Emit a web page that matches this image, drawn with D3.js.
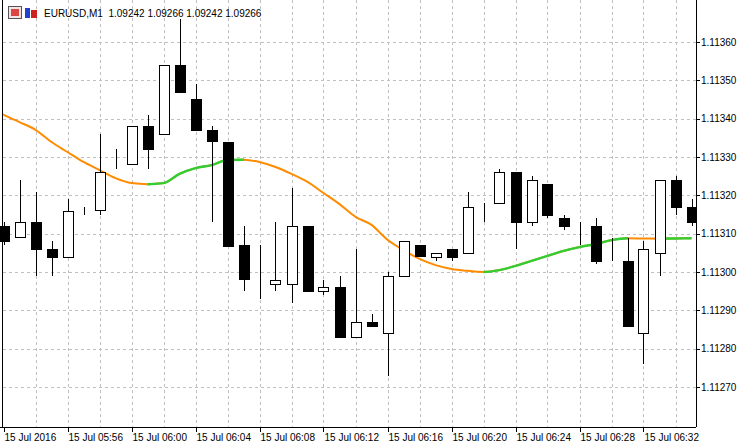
<!DOCTYPE html>
<html><head><meta charset="utf-8">
<script src="https://cdn.jsdelivr.net/npm/d3@7"></script>
<style>body{margin:0;background:#fff}svg{display:block}</style>
</head><body><svg id="c" width="741" height="445"></svg>
<script>
const opens  = [1.11312,1.11309,1.11313,1.11306,1.11304,1.11316,1.11316,1.11327,1.11328,1.11338,1.11336,1.11354,1.11345,1.11337,1.11334,1.11307,1.11297,1.11297,1.11297,1.11312,1.11295,1.11296,1.11283,1.11287,1.11284,1.11299,1.11307,1.11304,1.11306,1.11305,1.11317,1.11318,1.11326,1.11313,1.11323,1.11314,1.11312,1.11312,1.11303,1.11303,1.11284,1.11305,1.11324,1.11317];
const highs  = [1.11313,1.11324,1.11321,1.11308,1.11319,1.11317,1.11336,1.11332,1.11338,1.11341,1.11354,1.11366,1.11349,1.11338,1.11334,1.11312,1.11307,1.11313,1.11322,1.11312,1.11298,1.11299,1.11306,1.11289,1.11300,1.11308,1.11307,1.11305,1.11306,1.11321,1.11318,1.11327,1.11326,1.11325,1.11323,1.11315,1.11313,1.11314,1.11309,1.11309,1.11308,1.11324,1.11325,1.11319];
const lows   = [1.11307,1.11309,1.11299,1.11299,1.11304,1.11315,1.11315,1.11327,1.11328,1.11327,1.11336,1.11347,1.11337,1.11313,1.11307,1.11295,1.11293,1.11295,1.11292,1.11295,1.11294,1.11283,1.11283,1.11286,1.11273,1.11299,1.11304,1.11303,1.11303,1.11305,1.11313,1.11318,1.11306,1.11312,1.11314,1.11311,1.11307,1.11302,1.11303,1.11286,1.11276,1.11299,1.11315,1.11312];
const closes = [1.11308,1.11313,1.11306,1.11304,1.11316,1.11316,1.11326,1.11327,1.11338,1.11332,1.11354,1.11347,1.11337,1.11334,1.11307,1.11298,1.11297,1.11298,1.11312,1.11295,1.11296,1.11283,1.11287,1.11286,1.11299,1.11308,1.11304,1.11305,1.11304,1.11317,1.11317,1.11326,1.11313,1.11324,1.11315,1.11312,1.11312,1.11303,1.11303,1.11286,1.11306,1.11324,1.11317,1.11313];
const maValues = [1.113410,1.113391,1.113371,1.113339,1.113313,1.113287,1.113266,1.113245,1.113232,1.113229,1.113232,1.113256,1.113271,1.113279,1.113292,1.113293,1.113287,1.113274,1.113256,1.113235,1.113206,1.113177,1.113144,1.113123,1.113084,1.113057,1.113034,1.113018,1.113008,1.113003,1.113000,1.113005,1.113016,1.113029,1.113042,1.113055,1.113065,1.113073,1.113083,1.113088,1.1130875,1.113087,1.1130875,1.113088];
const priceTicks = [1.11270,1.11280,1.11290,1.11300,1.11310,1.11320,1.11330,1.11340,1.11350,1.11360];
const timeLabels = ['15 Jul 2016','15 Jul 05:56','15 Jul 06:00','15 Jul 06:04','15 Jul 06:08','15 Jul 06:12','15 Jul 06:16','15 Jul 06:20','15 Jul 06:24','15 Jul 06:28','15 Jul 06:32'];
const title = 'EURUSD,M1  1.09242 1.09266 1.09242 1.09266';

const svg = d3.select('#c');
const font = 'Liberation Sans, Arial, sans-serif';
const plot = {left: 3, right: 696, top: 0, bottom: 427};
const bars = d3.range(opens.length);

const x = d3.scaleLinear().domain([0, 43]).range([3.5, 691.5]);
const y = d3.scaleLinear().domain([1.11270, 1.11360]).range([387, 42]);

const grid = svg.append('g').attr('stroke', '#c0c0c0').attr('stroke-dasharray', '3,3').attr('shape-rendering', 'crispEdges');
grid.selectAll('.v').data(d3.range(2, 44, 2)).enter().append('line')
  .attr('x1', d => Math.round(x(d)) + 0.5).attr('x2', d => Math.round(x(d)) + 0.5)
  .attr('y1', plot.top).attr('y2', plot.bottom);
grid.selectAll('.h').data(priceTicks).enter().append('line')
  .attr('x1', plot.left).attr('x2', plot.right)
  .attr('y1', d => Math.round(y(d)) + 0.5).attr('y2', d => Math.round(y(d)) + 0.5);

// MA line: orange when falling, green when rising
const maLine = d3.line().curve(d3.curveMonotoneX).x((d, i) => x(i)).y(d => y(d));
const greenClip = svg.append('defs').append('clipPath').attr('id', 'up');
for (let i = 1; i < maValues.length; i++) {
  if (maValues[i] > maValues[i - 1]) {
    greenClip.append('rect').attr('x', x(i - 1)).attr('width', x(i) - x(i - 1) + 0.5)
      .attr('y', 0).attr('height', 445);
  }
}
svg.append('line').attr('x1', plot.left).attr('x2', x(0))
  .attr('y1', y(maValues[0]) - 1).attr('y2', y(maValues[0]))
  .attr('stroke', '#ff8c00').attr('stroke-width', 2);
svg.append('path').attr('d', maLine(maValues)).attr('fill', 'none')
  .attr('stroke', '#ff8c00').attr('stroke-width', 2);
svg.append('path').attr('d', maLine(maValues)).attr('fill', 'none')
  .attr('clip-path', 'url(#up)')
  .attr('stroke', '#32cd32').attr('stroke-width', 2.4);

// candles
const cg = svg.append('g').attr('shape-rendering', 'crispEdges');
cg.selectAll('.w').data(bars).enter().append('line')
  .attr('x1', i => Math.round(x(i)) + 0.5).attr('x2', i => Math.round(x(i)) + 0.5)
  .attr('y1', i => y(highs[i])).attr('y2', i => y(lows[i]))
  .attr('stroke', '#000');
cg.selectAll('.b').data(bars).enter().append('rect')
  .attr('x', i => Math.round(x(i)) - 4.5)
  .attr('width', 10)
  .attr('y', i => Math.round(y(Math.max(opens[i], closes[i]))) + 0.5)
  .attr('height', i => Math.max(0, Math.round(y(Math.min(opens[i], closes[i])) - y(Math.max(opens[i], closes[i])))))
  .attr('fill', i => closes[i] < opens[i] ? '#000' : '#fff')
  .attr('stroke', '#000');

// frame + axes
svg.append('rect').attr('x', plot.right + 1).attr('y', 0).attr('width', 60).attr('height', 445).attr('fill', '#fff');
svg.append('rect').attr('x', 0).attr('y', plot.bottom + 1).attr('width', 741).attr('height', 20).attr('fill', '#fff');
svg.append('line').attr('x1', plot.left - 0.5).attr('x2', plot.left - 0.5).attr('y1', 0).attr('y2', plot.bottom)
  .attr('stroke', '#000');
svg.append('line').attr('x1', plot.right + 0.5).attr('x2', plot.right + 0.5).attr('y1', 0).attr('y2', plot.bottom)
  .attr('stroke', '#000');
svg.append('line').attr('x1', 0).attr('x2', plot.right).attr('y1', plot.bottom + 0.5).attr('y2', plot.bottom + 0.5)
  .attr('stroke', '#000');

const ya = svg.append('g');
ya.selectAll('line').data(priceTicks).enter().append('line')
  .attr('x1', plot.right).attr('x2', plot.right + 4)
  .attr('y1', d => Math.round(y(d)) + 0.5).attr('y2', d => Math.round(y(d)) + 0.5).attr('stroke', '#000');
ya.selectAll('text').data(priceTicks).enter().append('text')
  .attr('x', plot.right + 5).attr('y', d => y(d) + 3.5)
  .attr('font-family', font).attr('font-size', 10).attr('fill', '#000')
  .text(d => d.toFixed(5));

const xa = svg.append('g');
xa.selectAll('line').data(timeLabels).enter().append('line')
  .attr('x1', (d, i) => Math.round(x(i * 4)) + 0.5).attr('x2', (d, i) => Math.round(x(i * 4)) + 0.5)
  .attr('y1', plot.bottom).attr('y2', plot.bottom + 5).attr('stroke', '#000');
xa.selectAll('text').data(timeLabels).enter().append('text')
  .attr('x', (d, i) => x(i * 4) + 1).attr('y', plot.bottom + 14)
  .attr('font-family', font).attr('font-size', 10).attr('fill', '#000')
  .text(d => d);

// header
const hd = svg.append('g');
hd.append('rect').attr('x', 8.5).attr('y', 6.5).attr('width', 13).attr('height', 12).attr('fill', '#f4e4e4').attr('stroke', '#555');
hd.append('rect').attr('x', 11).attr('y', 9).attr('width', 8).attr('height', 7).attr('fill', '#d44');
hd.append('rect').attr('x', 25).attr('y', 8).attr('width', 5).attr('height', 10).attr('fill', '#2244cc');
hd.append('rect').attr('x', 31).attr('y', 10).attr('width', 6).attr('height', 8).attr('fill', '#cc2222');
hd.append('text').attr('x', 44).attr('y', 17).attr('font-family', font).attr('font-size', 10).attr('fill', '#000')
  .attr('xml:space', 'preserve').style('white-space', 'pre').text(title);
</script></body></html>
